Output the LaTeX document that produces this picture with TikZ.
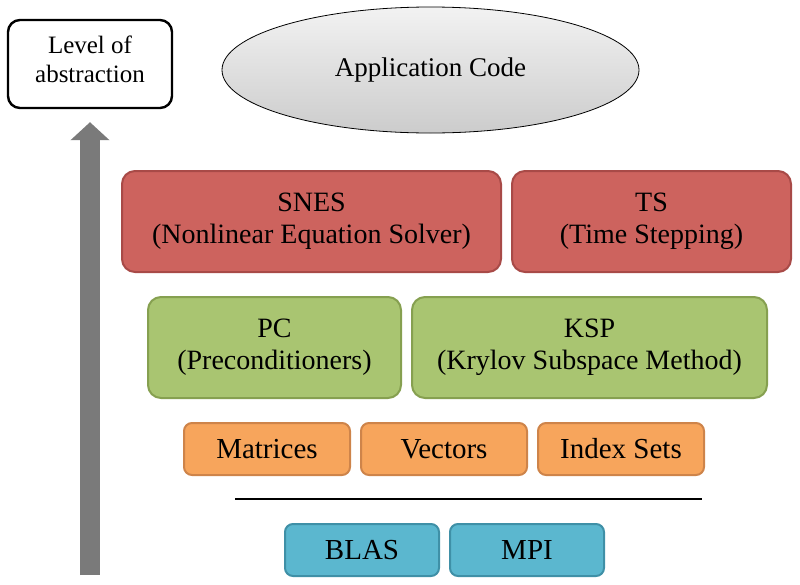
\documentclass[tikz,border=0pt]{standalone}
\usepackage{fontspec}
\setmainfont{Liberation Serif}
\usepackage{tikz}
\usetikzlibrary{arrows.meta,positioning,shapes.geometric}
\definecolor{snesfill}{HTML}{CD635E}
\definecolor{snesdraw}{HTML}{A84A47}
\definecolor{kspfill}{HTML}{A9C571}
\definecolor{kspdraw}{HTML}{86A050}
\definecolor{vecfill}{HTML}{F7A55C}
\definecolor{vecdraw}{HTML}{CE844A}
\definecolor{mpifill}{HTML}{5BB7CF}
\definecolor{mpidraw}{HTML}{3F90A7}
\tikzset{
  levelbox/.style={
    draw=black,
    line width=2.4pt,
    rounded corners=12pt,
    align=center,
    minimum width=164pt,
    minimum height=88pt,
    inner sep=2pt,
    font=\fontsize{25}{29}\selectfont
  },
  appellipse/.style={
    ellipse,
    draw=black,
    line width=0.8pt,
    top color=white!95!black,
    bottom color=white!80!black,
    align=center,
    minimum width=417pt,
    minimum height=126pt,
    inner sep=0pt,
    font=\fontsize{27}{30}\selectfont
  },
  layerbox/.style={
    line width=2pt,
    rounded corners=13pt,
    align=center,
    minimum height=101pt,
    inner sep=3pt,
    font=\fontsize{28}{32}\selectfont
  },
  databox/.style={
    line width=2pt,
    rounded corners=8pt,
    align=center,
    minimum height=52pt,
    inner sep=3pt,
    font=\fontsize{29}{30}\selectfont
  },
  levelarrow/.style={
    -{Triangle[width=38pt,length=18pt]},
    line width=20pt,
    draw=black!52
  },
  sepline/.style={
    line width=2pt
  }
}

\begin{document}
\begin{tikzpicture}[x=1pt,y=-1pt,node distance=9pt]
  \useasboundingbox (0,0) rectangle (800,584);
  \node[levelbox] (level) at (90,64) {Level of\\abstraction\\[-19pt]};
  \node[appellipse] (app) at (430.5,70) {Application Code\\[-24pt]};
  % solvers
  \node[layerbox, draw=snesdraw, fill=snesfill, minimum width=379pt, anchor=west] (snes) at (121,221.5) {SNES\\(Nonlinear Equation Solver)};
  \node[layerbox, draw=snesdraw, fill=snesfill, minimum width=279pt, right=of snes] (ts) {TS\\(Time Stepping)};
  \node[layerbox, draw=kspdraw, fill=kspfill, minimum width=253pt, anchor=west] (pc) at (147,347.5) {PC\\(Preconditioners)};
  \node[layerbox, draw=kspdraw, fill=kspfill, minimum width=355pt, right=of pc] (ksp) {KSP\\(Krylov Subspace Method)};
  % data objects
  \node[databox, draw=vecdraw, fill=vecfill, minimum width=166pt, anchor=west] (mat) at (183,449) {Matrices};
  \node[databox, draw=vecdraw, fill=vecfill, minimum width=166pt, right=of mat] (vec) {Vectors};
  \node[databox, draw=vecdraw, fill=vecfill, minimum width=166pt, right=of vec] (is) {Index Sets};
  \coordinate (sepwest) at (235,499);
  \coordinate (sepeast) at (702,499);
  \draw[sepline] (sepwest) -- (sepeast);
  \node[databox, draw=mpidraw, fill=mpifill, minimum width=154pt, anchor=west] (blas) at (284,550) {BLAS};
  \node[databox, draw=mpidraw, fill=mpifill, minimum width=154pt, right=of blas] (mpi) {MPI};
  \coordinate (arrowbase) at (90,575);
  \draw[levelarrow, shorten >=13pt] (arrowbase) -- (level.south);
\end{tikzpicture}
\end{document}
